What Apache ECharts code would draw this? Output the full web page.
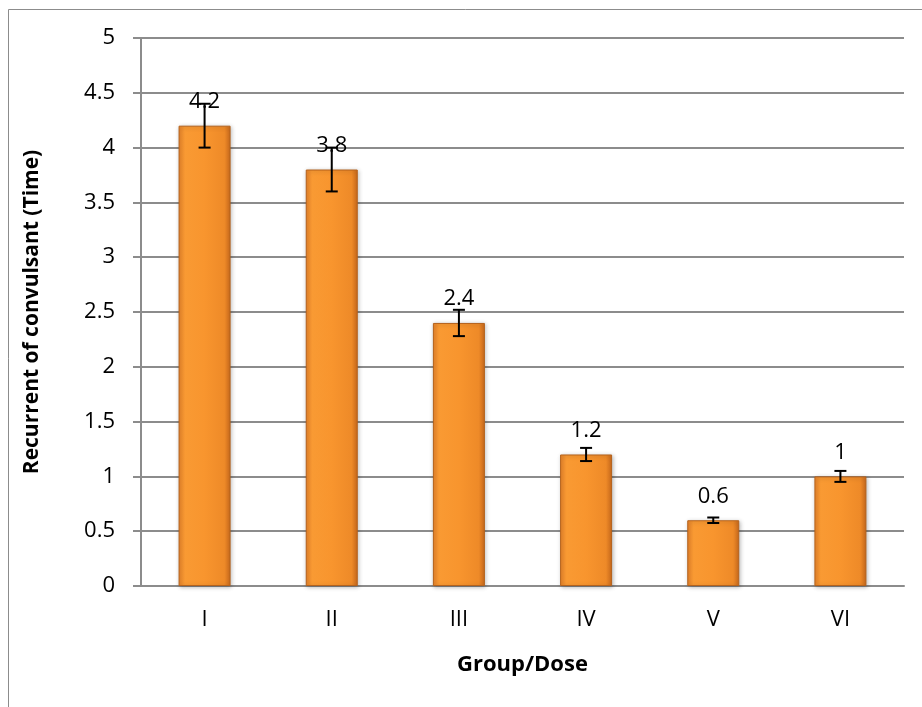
<!DOCTYPE html>
<html><head><meta charset="utf-8">
<script src="https://cdn.jsdelivr.net/npm/echarts@6/dist/echarts.min.js"></script>
<style>html,body{margin:0;padding:0;background:#fff}#c{width:922px;height:707px}</style>
</head><body><div id="c"></div>
<script>
const categories = ['I','II','III','IV','V','VI'];
const values = [4.2, 3.8, 2.4, 1.2, 0.6, 1.0];
const errors = [0.2, 0.2, 0.12, 0.06, 0.025, 0.05];
const yTicks = [0, 0.5, 1, 1.5, 2, 2.5, 3, 3.5, 4, 4.5, 5];

const font = '"Open Sans", sans-serif';
const chart = echarts.init(document.getElementById('c'));
chart.setOption({
  animation: false,
  backgroundColor: '#fff',
  graphic: [{
    type: 'rect', shape: {x: 8.5, y: 9.5, width: 1000, height: 800},
    style: {fill: 'none', stroke: '#8c8c8c', lineWidth: 1}, silent: true
  }],
  grid: {left: 141, right: 18, top: 38, bottom: 121},
  xAxis: {
    type: 'category', data: categories,
    axisLine: {lineStyle: {color: '#8c8c8c', width: 2}},
    axisTick: {show: false},
    axisLabel: {color: '#000', fontFamily: font, fontSize: 22, margin: 23},
    name: 'Group/Dose', nameLocation: 'middle', nameGap: 68,
    nameTextStyle: {color: '#000', fontFamily: font, fontSize: 22, fontWeight: 'bold'}
  },
  yAxis: {
    type: 'value', min: 0, max: 5, interval: 0.5,
    axisLine: {show: true, lineStyle: {color: '#8c8c8c', width: 2}},
    axisTick: {show: true, length: 8, inside: false, lineStyle: {color: '#8c8c8c', width: 2}},
    splitLine: {lineStyle: {color: '#8c8c8c', width: 2}},
    axisLabel: {color: '#000', fontFamily: font, fontSize: 22, margin: 26,
      formatter: v => yTicks.includes(v) ? String(v) : ''},
    name: 'Recurrent of convulsant (Time)', nameLocation: 'middle', nameGap: 98,
    nameTextStyle: {color: '#000', fontFamily: font, fontSize: 21, fontWeight: 'bold'}
  },
  series: [{
    type: 'bar', data: values, barWidth: 52,
    itemStyle: {
      color: new echarts.graphic.LinearGradient(0, 0, 1, 0, [
        {offset: 0, color: '#E8832A'},
        {offset: 0.12, color: '#F99A33'},
        {offset: 0.5, color: '#F8952E'},
        {offset: 0.88, color: '#EE8A28'},
        {offset: 1, color: '#C9691C'}
      ]),
      borderColor: '#B5621C', borderWidth: 1,
      shadowColor: 'rgba(0,0,0,0.25)', shadowBlur: 4, shadowOffsetX: 1, shadowOffsetY: 1
    },
    label: {show: true, position: 'top', distance: 13, color: '#000', fontFamily: font, fontSize: 22,
      formatter: p => String(p.value)}
  }, {
    type: 'custom', z: 5,
    data: values.map((v, i) => [i, v - errors[i], v + errors[i]]),
    renderItem: (params, api) => {
      const lo = api.coord([api.value(0), api.value(1)]);
      const hi = api.coord([api.value(0), api.value(2)]);
      const hw = 6;
      const st = {stroke: '#000', lineWidth: 2};
      return {type: 'group', children: [
        {type: 'line', shape: {x1: hi[0], y1: hi[1], x2: lo[0], y2: lo[1]}, style: st},
        {type: 'line', shape: {x1: hi[0]-hw, y1: hi[1], x2: hi[0]+hw, y2: hi[1]}, style: st},
        {type: 'line', shape: {x1: lo[0]-hw, y1: lo[1], x2: lo[0]+hw, y2: lo[1]}, style: st}
      ]};
    }
  }]
});
</script></body></html>
